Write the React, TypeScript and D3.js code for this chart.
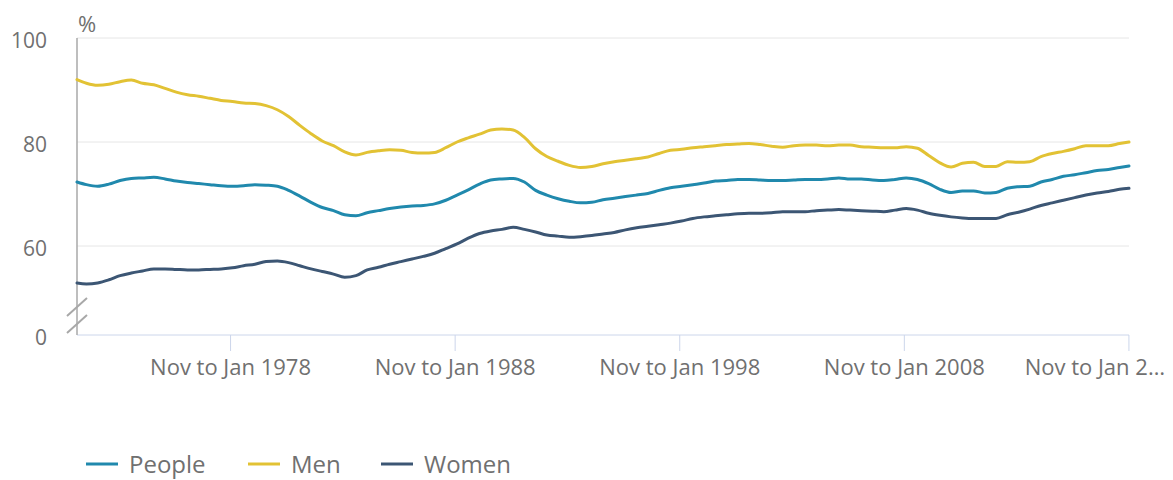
import React from "react";
import * as d3 from "d3";

// Period mid-points (decimal years), first = Jan to Mar 1971, last = Nov to Jan 2018
const periods: number[] = [
  1971.08, 1971.5, 1972.0, 1972.5, 1973.0, 1973.5, 1974.0, 1974.5, 1975.0, 1975.5,
  1976.0, 1976.5, 1977.0, 1977.5, 1978.0, 1978.5, 1979.0, 1979.5, 1980.0, 1980.5,
  1981.0, 1981.5, 1982.0, 1982.5, 1983.0, 1983.5, 1984.0, 1984.5, 1985.0, 1985.5,
  1986.0, 1986.5, 1987.0, 1987.5, 1988.0, 1988.5, 1989.0, 1989.5, 1990.0, 1990.5,
  1991.0, 1991.5, 1992.0, 1992.5, 1993.0, 1993.5, 1994.0, 1994.5, 1995.0, 1995.5,
  1996.0, 1996.5, 1997.0, 1997.5, 1998.0, 1998.5, 1999.0, 1999.5, 2000.0, 2000.5,
  2001.0, 2001.5, 2002.0, 2002.5, 2003.0, 2003.5, 2004.0, 2004.5, 2005.0, 2005.5,
  2006.0, 2006.5, 2007.0, 2007.5, 2008.0, 2008.5, 2009.0, 2009.5, 2010.0, 2010.5,
  2011.0, 2011.5, 2012.0, 2012.5, 2013.0, 2013.5, 2014.0, 2014.5, 2015.0, 2015.5,
  2016.0, 2016.5, 2017.0, 2017.5, 2017.92,
];

const people: number[] = [
  72.3, 71.8, 71.5, 71.9, 72.6, 73.0, 73.1, 73.2, 72.9, 72.5,
  72.2, 72.0, 71.8, 71.6, 71.5, 71.6, 71.8, 71.7, 71.5, 70.7,
  69.6, 68.4, 67.4, 66.8, 66.0, 65.8, 66.4, 66.8, 67.2, 67.5,
  67.7, 67.8, 68.1, 68.8, 69.8, 70.8, 71.9, 72.7, 72.9, 73.0,
  72.3, 70.7, 69.8, 69.1, 68.6, 68.3, 68.4, 68.9, 69.2, 69.5,
  69.8, 70.1, 70.7, 71.2, 71.5, 71.8, 72.1, 72.5, 72.6, 72.8,
  72.8, 72.7, 72.6, 72.6, 72.7, 72.8, 72.8, 72.9, 73.1, 72.9,
  72.9, 72.7, 72.6, 72.8, 73.1, 72.8, 72.0, 70.9, 70.3, 70.6,
  70.6, 70.2, 70.3, 71.1, 71.4, 71.5, 72.3, 72.8, 73.4, 73.7,
  74.1, 74.5, 74.7, 75.1, 75.4,
];

const men: number[] = [
  92.0, 91.3, 90.9, 91.1, 91.6, 91.9, 91.3, 91.0, 90.3, 89.6,
  89.1, 88.8, 88.4, 88.0, 87.8, 87.5, 87.4, 87.0, 86.2, 84.9,
  83.2, 81.6, 80.2, 79.3, 78.1, 77.5, 78.0, 78.3, 78.5, 78.4,
  78.0, 77.9, 78.0, 78.9, 80.0, 80.8, 81.5, 82.3, 82.5, 82.3,
  80.9, 78.7, 77.2, 76.3, 75.5, 75.1, 75.3, 75.8, 76.2, 76.5,
  76.8, 77.1, 77.8, 78.4, 78.6, 78.9, 79.1, 79.3, 79.5, 79.6,
  79.7, 79.5, 79.2, 79.0, 79.3, 79.4, 79.4, 79.3, 79.4, 79.4,
  79.1, 79.0, 78.9, 78.9, 79.1, 78.8, 77.4, 76.0, 75.2, 75.9,
  76.1, 75.3, 75.3, 76.2, 76.1, 76.2, 77.2, 77.8, 78.2, 78.7,
  79.3, 79.3, 79.3, 79.7, 80.0,
];

const women: number[] = [
  52.9, 52.7, 52.9, 53.5, 54.3, 54.8, 55.2, 55.6, 55.6, 55.5,
  55.4, 55.4, 55.5, 55.6, 55.8, 56.2, 56.5, 57.0, 57.1, 56.8,
  56.2, 55.6, 55.1, 54.6, 54.0, 54.3, 55.4, 55.9, 56.5, 57.0,
  57.5, 58.0, 58.6, 59.5, 60.4, 61.5, 62.4, 62.9, 63.2, 63.6,
  63.2, 62.7, 62.1, 61.9, 61.7, 61.8, 62.0, 62.3, 62.6, 63.1,
  63.5, 63.8, 64.1, 64.4, 64.8, 65.3, 65.6, 65.8, 66.0, 66.2,
  66.3, 66.3, 66.4, 66.6, 66.6, 66.6, 66.8, 66.9, 67.0, 66.9,
  66.8, 66.7, 66.6, 66.9, 67.2, 66.9, 66.3, 65.9, 65.6, 65.4,
  65.3, 65.3, 65.3, 66.0, 66.5, 67.1, 67.8, 68.3, 68.8, 69.3,
  69.8, 70.2, 70.5, 70.9, 71.1,
];

const seriesNames = ["People", "Men", "Women"];
const seriesColors = ["#2089ad", "#e2c234", "#3c5674"];

const xTickValues = [1977.917, 1987.917, 1997.917, 2007.917, 2017.917];
const xTickLabels = [
  "Nov to Jan 1978",
  "Nov to Jan 1988",
  "Nov to Jan 1998",
  "Nov to Jan 2008",
  "Nov to Jan 2\u2026",
];
const yTickValues = [0, 60, 80, 100];
const yGridValues = [60, 80, 100];
const yUnit = "%";

const W = 1173;
const H = 480;
const FONT = "'Open Sans', 'Noto Sans', sans-serif";
const TEXT = "#707070";

export default function App() {
  const left = 77;
  const right = 1129;
  const x = d3.scaleLinear().domain([periods[0], periods[periods.length - 1]]).range([left, right]);
  // broken axis: 0 sits at the bottom, the break compresses 0..45
  const y = d3.scaleLinear().domain([0, 45, 100]).range([335, 324, 38]);
  const baseY = y(0);

  const seriesData = [people, men, women];
  const line = d3
    .line<number>()
    .x((_, i) => x(periods[i]))
    .y((d) => y(d))
    .curve(d3.curveMonotoneX);

  const legendX = [86, 248, 381];

  return (
    <svg
      width={W}
      height={H}
      style={{ position: "absolute", left: 0, top: 0, background: "#fff" }}
      fontFamily={FONT}
    >
      {/* grid lines */}
      {yGridValues.map((v) => (
        <line key={v} x1={left} x2={right} y1={y(v)} y2={y(v)} stroke="#e6e6e6" strokeWidth={1} />
      ))}
      {/* x axis baseline */}
      <line x1={left} x2={right} y1={baseY} y2={baseY} stroke="#ccd6eb" strokeWidth={1} />
      {/* x ticks */}
      {xTickValues.map((t, i) => {
        const tx = x(t);
        const last = i === xTickValues.length - 1;
        return (
          <g key={t}>
            <line x1={tx} x2={tx} y1={baseY} y2={baseY + 16} stroke="#ccd6eb" strokeWidth={1} />
            <text
              x={last ? W - 8 : tx}
              y={375}
              textAnchor={last ? "end" : "middle"}
              fontSize={22}
              fill={TEXT}
            >
              {xTickLabels[i]}
            </text>
          </g>
        );
      })}
      {/* y axis line */}
      <line x1={left} x2={left} y1={y(100)} y2={baseY} stroke="#a8a8a8" strokeWidth={1.5} />
      {/* axis break marks */}
      {[0, 17].map((o) => (
        <line
          key={o}
          x1={67}
          x2={87}
          y1={316 + o}
          y2={298 + o}
          stroke="#a8a8a8"
          strokeWidth={2}
        />
      ))}
      {/* y tick labels */}
      {yTickValues.map((v) => (
        <text key={v} x={47} y={y(v) + 3} dy="0.35em" textAnchor="end" fontSize={21} fill={TEXT}>
          {v}
        </text>
      ))}
      <text x={78} y={32} fontSize={22} fill={TEXT}>
        {yUnit}
      </text>
      {/* lines */}
      {seriesData.map((s, i) => (
        <path
          key={seriesNames[i]}
          d={line(s) || ""}
          fill="none"
          stroke={seriesColors[i]}
          strokeWidth={3}
          strokeLinejoin="round"
          strokeLinecap="round"
        />
      ))}
      {/* legend */}
      {seriesNames.map((n, i) => (
        <g key={n}>
          <line
            x1={legendX[i]}
            x2={legendX[i] + 32}
            y1={464}
            y2={464}
            stroke={seriesColors[i]}
            strokeWidth={3}
          />
          <text x={legendX[i] + 43} y={473} fontSize={24} fill={TEXT}>
            {n}
          </text>
        </g>
      ))}
    </svg>
  );
}
